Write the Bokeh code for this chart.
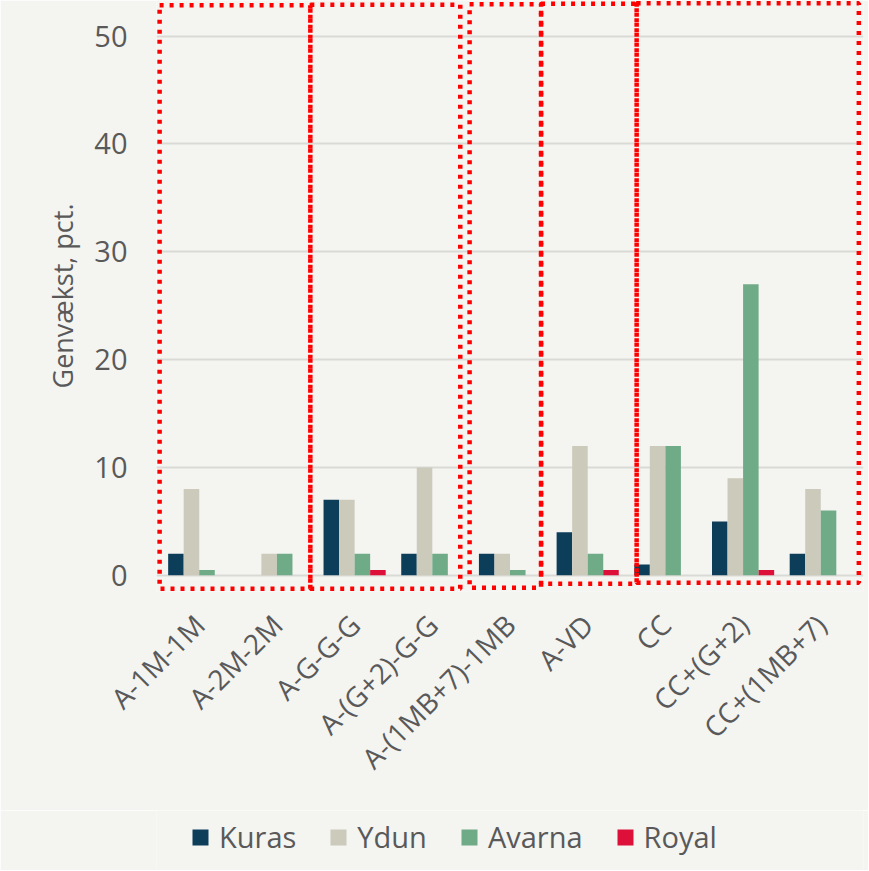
import math
from bokeh.plotting import figure
from bokeh.layouts import column
from bokeh.models import FactorRange, Range1d, FixedTicker, ColumnDataSource, Legend
from bokeh.transform import dodge
from bokeh.embed import file_html
from bokeh.resources import INLINE

# ---------------- data ----------------
categories = ["A-1M-1M", "A-2M-2M", "A-G-G-G", "A-(G+2)-G-G", "A-(1MB+7)-1MB",
              "A-VD", "CC", "CC+(G+2)", "CC+(1MB+7)"]
series_names = ["Kuras", "Ydun", "Avarna", "Royal"]
kuras = [2, 0, 7, 2, 2, 4, 1, 5, 2]
ydun = [8, 2, 7, 10, 2, 12, 12, 9, 8]
avarna = [0.5, 2, 2, 2, 0.5, 2, 12, 27, 6]
royal = [0, 0, 0.5, 0, 0, 0.5, 0, 0.5, 0]
y_ticks = [0, 10, 20, 30, 40, 50]
y_label = "Genvækst, pct."

# highlight boxes (left, right in category units; top, bottom in value units)
box_left = [-0.01, 1.93, 3.98, 4.90, 6.13]
box_right = [1.93, 3.86, 4.90, 6.13, 8.99]
box_top = [52.85, 52.9, 52.95, 53.0, 53.05]
box_bottom = [-1.25, -1.25, -1.15, -0.78, -0.69]

# ---------------- style ----------------
colors = ["#0c3e5a", "#cbcabb", "#70ab88", "#dc1039"]
bg = "#f4f4f1"
text_col = "#595959"
font = "Open Sans"

source = ColumnDataSource(dict(cat=categories, Kuras=kuras, Ydun=ydun,
                               Avarna=avarna, Royal=royal))

p = figure(
    x_range=FactorRange(factors=categories, range_padding=0.05,
                        range_padding_units="absolute"),
    y_range=Range1d(-1.5, 53.3),
    width=868, height=810,
    output_backend="svg", toolbar_location=None,
    min_border_left=156, min_border_right=5, min_border_top=0,
    min_border_bottom=219,
    background_fill_color=bg, border_fill_color=bg,
)
p.outline_line_color = None

offsets = [-0.3, -0.1, 0.1, 0.3]
for name, off, col in zip(series_names, offsets, colors):
    p.vbar(x=dodge("cat", off, range=p.x_range), top=name, width=0.2,
           source=source, fill_color=col, line_color=None)

p.quad(left=box_left, right=box_right, top=box_top, bottom=box_bottom,
       fill_alpha=0, line_color="#ff0000", line_width=4.5,
       line_dash="4 6")

# grid
p.xgrid.grid_line_color = None
p.ygrid.ticker = FixedTicker(ticks=y_ticks)
p.ygrid.grid_line_color = "#d9d9d5"
p.ygrid.grid_line_width = 2

# y axis
p.yaxis.ticker = FixedTicker(ticks=y_ticks)
p.yaxis.axis_line_color = None
p.yaxis.major_tick_line_color = None
p.yaxis.minor_tick_line_color = None
p.yaxis.major_tick_out = 0
p.yaxis.major_tick_in = 0
p.yaxis.major_label_standoff = 29
p.yaxis.major_label_text_font = font
p.yaxis.major_label_text_font_size = "29px"
p.yaxis.major_label_text_color = text_col
p.yaxis.axis_label = y_label
p.yaxis.axis_label_text_font = font
p.yaxis.axis_label_text_font_size = "27px"
p.yaxis.axis_label_text_font_style = "normal"
p.yaxis.axis_label_text_color = text_col
p.yaxis.axis_label_standoff = 10

# x axis
p.xaxis.axis_line_color = None
p.xaxis.major_tick_line_color = None
p.xaxis.major_tick_out = 0
p.xaxis.major_tick_in = 0
p.xaxis.major_label_orientation = math.pi / 4
p.xaxis.major_label_standoff = 28
p.xaxis.major_label_text_font = font
p.xaxis.major_label_text_font_size = "28px"
p.xaxis.major_label_text_color = text_col

# legend strip (separate figure beneath the chart)
lg = figure(width=868, height=60, x_range=Range1d(0, 1), y_range=Range1d(0, 1),
            x_axis_type=None, y_axis_type=None, min_border=0,
            output_backend="svg", toolbar_location=None,
            background_fill_color=bg, border_fill_color=bg)
lg.outline_line_color = None
lg.xgrid.grid_line_color = None
lg.ygrid.grid_line_color = None
items = []
for name, col in zip(series_names, colors):
    # off-screen placeholder so the legend swatch is drawn
    r = lg.vbar(x=[-10], top=[-10], bottom=[-11], width=0.1,
                fill_color=col, line_color=None)
    items.append((name, [r]))
leg = Legend(items=items, orientation="horizontal", location=(34, 14),
             glyph_width=20, glyph_height=20, label_standoff=9, spacing=32,
             padding=0, margin=0, border_line_color=None,
             background_fill_alpha=0, label_text_font=font,
             label_text_font_size="29px", label_text_color=text_col)
lg.add_layout(leg, "center")

layout = column(p, lg, spacing=0)
open("out.html", "w").write(file_html(layout, INLINE))
